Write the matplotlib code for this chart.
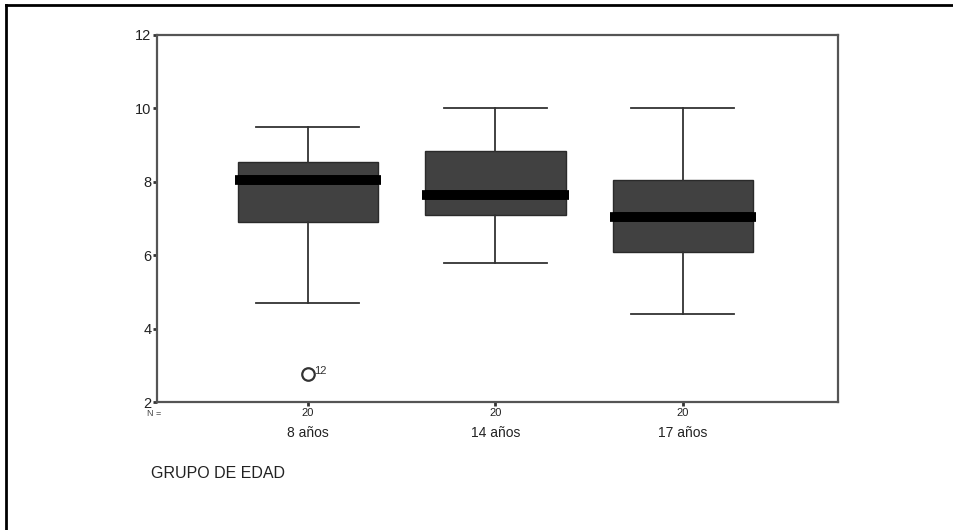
import matplotlib.pyplot as plt
from matplotlib.lines import Line2D

plt.rcParams['font.family'] = ['Liberation Sans Narrow', 'Liberation Sans', 'DejaVu Sans']

# Box summaries per age group
groups = ['8 años', '14 años', '17 años']
n_counts = [20, 20, 20]
whislo = [4.7, 5.8, 4.4]
q1 = [6.9, 7.1, 6.1]
median = [8.05, 7.65, 7.05]
q3 = [8.55, 8.85, 8.05]
whishi = [9.5, 10.0, 10.0]

# Outlier: group index, value, case label
outlier_group = [0]
outlier_value = [2.75]
outlier_case = ['12']

stats = []
for i in range(len(groups)):
    fl = [v for g, v in zip(outlier_group, outlier_value) if g == i]
    stats.append({'whislo': whislo[i], 'q1': q1[i], 'med': median[i],
                  'q3': q3[i], 'whishi': whishi[i], 'fliers': fl})

fig = plt.figure(figsize=(9.54, 5.3), dpi=100)
ax = fig.add_axes([157 / 954, 1 - 402 / 530, (838 - 157) / 954, (402 - 35) / 530])

pos = [1, 2, 3]
ax.bxp(stats, positions=pos, widths=0.75, patch_artist=True, showfliers=True,
       boxprops=dict(facecolor='#414141', edgecolor='#2a2a2a', linewidth=1),
       medianprops=dict(color='black', linewidth=7, solid_capstyle='butt'),
       whiskerprops=dict(color='#333333', linewidth=1.3),
       capprops=dict(color='#333333', linewidth=1.3),
       capwidths=0.55,
       flierprops=dict(marker='o', markerfacecolor='white', markeredgecolor='#333333',
                       markersize=9, markeredgewidth=1.6))

# median bars stick out slightly past the box
for i, p in enumerate(pos):
    ax.plot([p - 0.39, p + 0.39], [median[i], median[i]], color='black',
            linewidth=7, solid_capstyle='butt', zorder=4)

for g, v, lab in zip(outlier_group, outlier_value, outlier_case):
    ax.text(pos[g] + 0.035, v - 0.05, lab, fontsize=8, color='#333333', va='bottom')

ax.set_xlim(0.195, 3.827)
ax.set_ylim(2, 12)
ax.set_yticks([2, 4, 6, 8, 10, 12])
ax.set_yticklabels(['2', '4', '6', '8', '10', '12'], fontsize=10.5, color='#222222')
ax.tick_params(axis='y', length=3, width=2, color='#333333', pad=1)
ax.set_xticks(pos)
ax.set_xticklabels([str(n) for n in n_counts], fontsize=8, color='#222222')
ax.tick_params(axis='x', length=3, width=2, color='#333333', pad=1)
for p, g in zip(pos, groups):
    ax.text(p, -0.085, g, transform=ax.get_xaxis_transform(), fontsize=10,
            color='#222222', ha='center', va='center')
for s in ax.spines.values():
    s.set_color('#555555')
    s.set_linewidth(1.6)

ax.text(-0.015, -0.018, 'N =', transform=ax.transAxes, fontsize=6.5,
        color='#444444', ha='left', va='top')
fig.text(151 / 954, 1 - 474 / 530, 'GRUPO DE EDAD', fontsize=11.5,
         color='#222222', va='center', ha='left')

# outer frame: top and left edges only
fig.add_artist(Line2D([6 / 954, 1], [1 - 5 / 530, 1 - 5 / 530],
                      transform=fig.transFigure, color='black', linewidth=2))
fig.add_artist(Line2D([6 / 954, 6 / 954], [0, 1 - 5 / 530],
                      transform=fig.transFigure, color='black', linewidth=2))

fig.savefig('out.png', dpi=100)
